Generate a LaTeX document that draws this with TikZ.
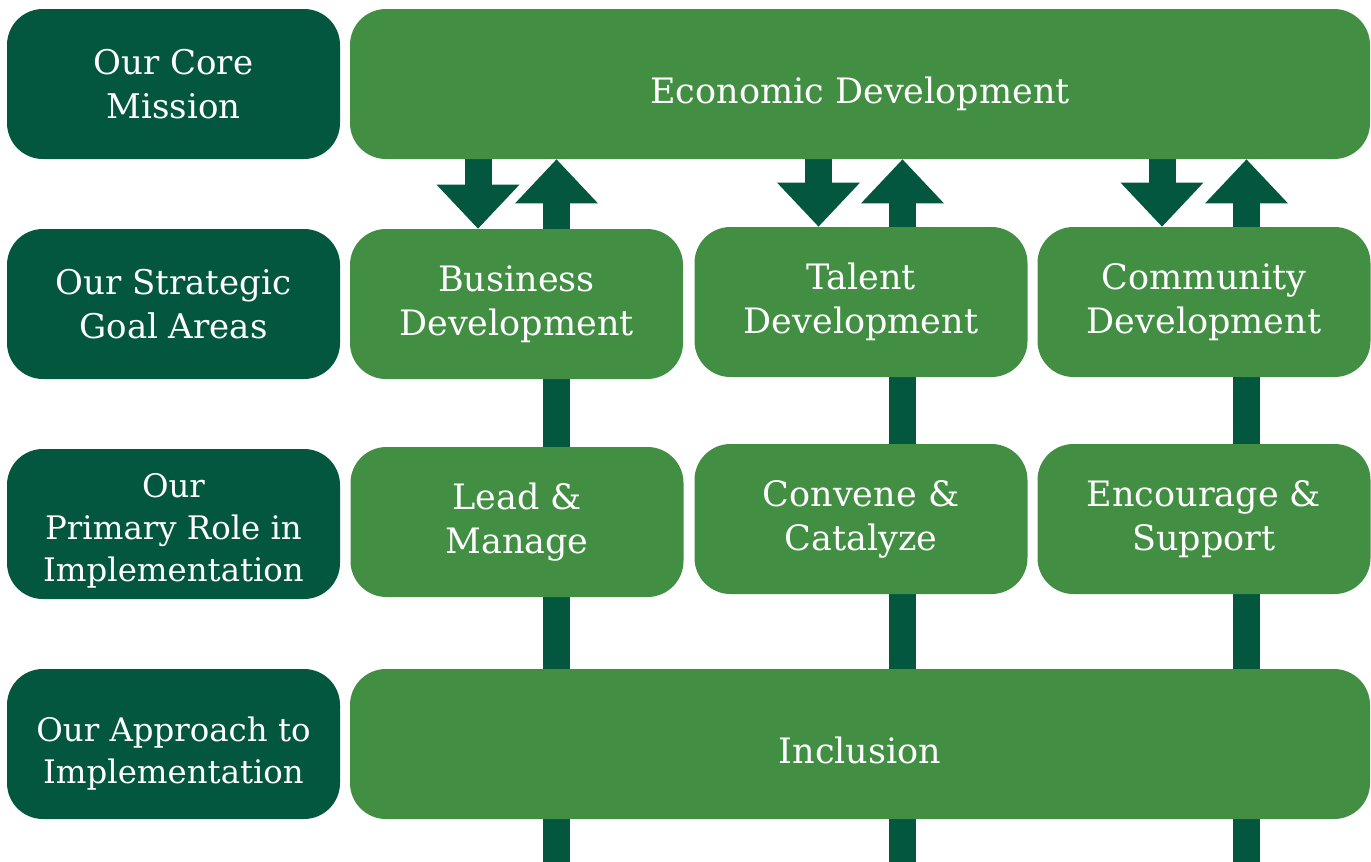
\documentclass[tikz,border=0pt]{standalone}
\usepackage{fontspec}
\setmainfont{DejaVu Serif}
\usetikzlibrary{arrows.meta,backgrounds}
\definecolor{darkgreen}{HTML}{03573F}
\definecolor{leafgreen}{HTML}{428F44}

\begin{document}
\begin{tikzpicture}[x=0.5pt,y=-0.5pt,
    rowlabel/.style={fill=darkgreen,text=white,rounded corners=18pt,minimum width=166.5pt,
      minimum height=75pt,inner sep=0pt,align=center,font=\fontsize{17}{22}\selectfont},
    smalllabel/.style={font=\fontsize{16.2}{21}\selectfont},
    goal/.style={fill=leafgreen,text=white,rounded corners=18pt,minimum width=166.5pt,
      minimum height=75pt,inner sep=0pt,align=center,font=\fontsize{17.5}{22}\selectfont},
    wide/.style={minimum width=510pt,text height=19pt,text depth=0pt},
    blockarrow/.style={darkgreen,line width=13.5pt,
      -{Triangle[width=41.5pt,length=22pt,line width=0pt]}}]
  \useasboundingbox (0,0) rectangle (1371,862);

  % left column
  \node[rowlabel] (mission) at (173.5,84) {Our Core\\Mission};
  \node[rowlabel] (areas) at (173.5,304) {Our Strategic\\Goal Areas};
  \node[rowlabel,smalllabel] (role) at (173.5,524) {\rule{0pt}{18.5pt}Our\\Primary Role in\\Implementation};
  \node[rowlabel,smalllabel] (approach) at (173.5,744) {\rule{0pt}{22pt}Our Approach to\\Implementation};

  % mission, goal areas, roles and approach
  \node[goal,wide] (econ) at (860,84) {Economic Development};
  \node[goal] (business) at (516.5,304) {Business\\Development};
  \node[goal] (talent) at (861,302) {Talent\\Development};
  \node[goal] (community) at (1204,302) {Community\\Development};
  \node[goal] (lead) at (517,522) {Lead \&\\Manage};
  \node[goal] (convene) at (861,519) {Convene \&\\Catalyze};
  \node[goal] (encourage) at (1204,519) {Encourage \&\\Support};
  \node[goal,wide] (inclusion) at (860,744) {Inclusion};

  \begin{scope}[on background layer]
    \foreach \dx/\ux/\area in {478/556.5/business,818.5/902.5/talent,1162/1246.5/community}{
      \coordinate (dn) at (\dx,0);
      \coordinate (up) at (\ux,862);
      \draw[blockarrow] (dn |- econ.south) -- (dn |- \area.north);
      \draw[blockarrow] (up) -- (up |- econ.south);
    }
  \end{scope}
\end{tikzpicture}
\end{document}
